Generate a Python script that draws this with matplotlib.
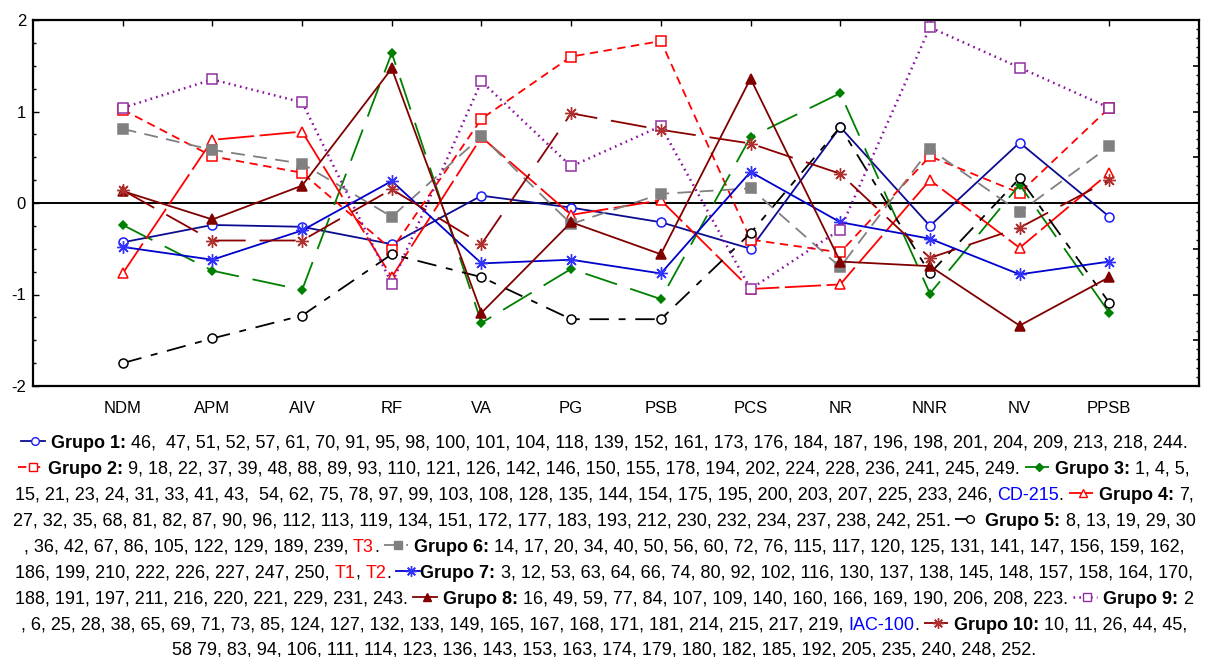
import matplotlib
matplotlib.use("Agg")
import matplotlib.pyplot as plt
from matplotlib.lines import Line2D
from matplotlib.ticker import MultipleLocator
import matplotlib.font_manager as fm

# ---------------- data ----------------
categories = ["NDM", "APM", "AIV", "RF", "VA", "PG", "PSB", "PCS", "NR", "NNR", "NV", "PPSB"]
grupo1 = [-0.43, -0.24, -0.26, -0.45, 0.08, -0.05, -0.21, -0.50, 0.83, -0.25, 0.66, -0.15]
grupo2 = [1.02, 0.51, 0.33, -0.51, 0.92, 1.60, 1.77, -0.40, -0.54, 0.51, 0.11, 1.04]
grupo3 = [-0.24, -0.74, -0.95, 1.64, -1.31, -0.72, -1.05, 0.72, 1.20, -0.99, 0.20, -1.20]
grupo4 = [-0.77, 0.69, 0.78, -0.81, 0.72, -0.13, 0.03, -0.94, -0.89, 0.25, -0.49, 0.33]
grupo5 = [-1.75, -1.48, -1.23, -0.56, -0.81, -1.27, -1.27, -0.33, 0.83, -0.77, 0.27, -1.09]
grupo6 = [0.81, 0.58, 0.43, -0.15, 0.73, -0.23, 0.10, 0.16, -0.70, 0.59, -0.10, 0.62]
grupo7 = [-0.48, -0.62, -0.30, 0.24, -0.66, -0.62, -0.77, 0.34, -0.21, -0.39, -0.78, -0.64]
grupo8 = [0.13, -0.18, 0.19, 1.47, -1.20, -0.21, -0.56, 1.36, -0.64, -0.69, -1.34, -0.81]
grupo9 = [1.04, 1.35, 1.10, -0.88, 1.33, 0.40, 0.84, -0.94, -0.29, 1.92, 1.48, 1.04]
grupo10 = [0.14, -0.41, -0.41, 0.15, -0.45, 0.98, 0.80, 0.65, 0.32, -0.60, -0.27, 0.25]
groups = [grupo1, grupo2, grupo3, grupo4, grupo5, grupo6, grupo7, grupo8, grupo9, grupo10]
y_ticks = [-2, -1, 0, 1, 2]

# legend paragraph (as laid out in the reference)
legend_lines = [
    [("sym", 0), ("b", "Grupo 1:"), ("t", "46,  47, 51, 52, 57, 61, 70, 91, 95, 98, 100, 101, 104, 118, 139, 152, 161, 173, 176, 184, 187, 196, 198, 201, 204, 209, 213, 218, 244.")],
    [("sym", 1), ("b", "Grupo 2:"), ("t", "9, 18, 22, 37, 39, 48, 88, 89, 93, 110, 121, 126, 142, 146, 150, 155, 178, 194, 202, 224, 228, 236, 241, 245, 249."), ("sym", 2), ("b", "Grupo 3:"), ("t", "1, 4, 5,")],
    [("t", "15, 21, 23, 24, 31, 33, 41, 43,  54, 62, 75, 78, 97, 99, 103, 108, 128, 135, 144, 154, 175, 195, 200, 203, 207, 225, 233, 246,"), ("blue", "CD-215"), ("t0", "."), ("sym", 3), ("b", "Grupo 4:"), ("t", "7,")],
    [("t", "27, 32, 35, 68, 81, 82, 87, 90, 96, 112, 113, 119, 134, 151, 172, 177, 183, 193, 212, 230, 232, 234, 237, 238, 242, 251."), ("sym", 4), ("b", "Grupo 5:"), ("t", "8, 13, 19, 29, 30")],
    [("t", ", 36, 42, 67, 86, 105, 122, 129, 189, 239,"), ("red", "T3"), ("t0", "."), ("sym", 5), ("b", "Grupo 6:"), ("t", "14, 17, 20, 34, 40, 50, 56, 60, 72, 76, 115, 117, 120, 125, 131, 141, 147, 156, 159, 162,")],
    [("t", "186, 199, 210, 222, 226, 227, 247, 250,"), ("red", "T1"), ("t0", ","), ("red", "T2"), ("t0", "."), ("sym", 6), ("b0", "Grupo 7:"), ("t", "3, 12, 53, 63, 64, 66, 74, 80, 92, 102, 116, 130, 137, 138, 145, 148, 157, 158, 164, 170,")],
    [("t", "188, 191, 197, 211, 216, 220, 221, 229, 231, 243."), ("sym", 7), ("b", "Grupo 8:"), ("t", "16, 49, 59, 77, 84, 107, 109, 140, 160, 166, 169, 190, 206, 208, 223."), ("sym", 8), ("b", "Grupo 9:"), ("t", "2")],
    [("t", ", 6, 25, 28, 38, 65, 69, 71, 73, 85, 124, 127, 132, 133, 149, 165, 167, 168, 171, 181, 214, 215, 217, 219,"), ("blue", "IAC-100"), ("t0", "."), ("sym", 9), ("b", "Grupo 10:"), ("t", "10, 11, 26, 44, 45,")],
    [("t", "58 79, 83, 94, 106, 111, 114, 123, 136, 143, 153, 163, 174, 179, 180, 182, 185, 192, 205, 235, 240, 248, 252.")],
]

# ---------------- styles ----------------
names = {f.name for f in fm.fontManager.ttflist}
FONT = "Liberation Sans Narrow" if "Liberation Sans Narrow" in names else "Liberation Sans"
plt.rcParams["font.family"] = [FONT, "DejaVu Sans"]
plt.rcParams["lines.scale_dashes"] = False

ast = (8, 2, 0)
styles = [
    dict(color="#0C0C90", ls="-", lw=1.3, marker="o", mfc="white", mec="#1a1aff", ms=6.5),
    dict(color="#FF0000", ls=(0, (6, 4)), lw=1.3, marker="s", mfc="white", mec="#FF0000", ms=6.5),
    dict(color="#008000", ls=(0, (24, 10)), lw=1.3, marker="D", mfc="#008000", mec="#008000", ms=4.5),
    dict(color="#FF0000", ls=(0, (26, 4)), lw=1.3, marker="^", mfc="white", mec="#FF0000", ms=6.5),
    dict(color="#000000", ls=(0, (14, 7, 5, 7)), lw=1.3, marker="o", mfc="white", mec="#000000", ms=6.5),
    dict(color="#808080", ls=(0, (10, 6)), lw=1.3, marker="s", mfc="#808080", mec="#808080", ms=6.5),
    dict(color="#0000CC", ls="-", lw=1.3, marker=ast, mfc="none", mec="#3333ff", ms=9, mew=1.0),
    dict(color="#800000", ls="-", lw=1.3, marker="^", mfc="#800000", mec="#800000", ms=6.5),
    dict(color="#8B10A0", ls=(0, (1.2, 3)), lw=1.8, marker="s", mfc="white", mec="#9030A0", ms=6.5),
    dict(color="#8B0000", ls=(0, (26, 10)), lw=1.3, marker=ast, mfc="none", mec="#B03030", ms=9, mew=1.0),
]

W, H = 1207, 657
fig = plt.figure(figsize=(W / 100, H / 100), dpi=100)
ax = fig.add_axes([33 / W, 1 - 386 / H, (1199 - 33) / W, (386 - 20) / H])

xs = list(range(len(categories)))
for g, st in zip(groups, styles):
    ax.plot(xs, g, color=st["color"], linestyle=st["ls"], linewidth=st["lw"],
            marker=st["marker"], markerfacecolor=st["mfc"], markeredgecolor=st["mec"],
            markersize=st["ms"], markeredgewidth=st.get("mew", 1.1), zorder=3)

ax.axhline(0, color="black", lw=1.4, zorder=2)
ax.set_xlim(-1, 12)
ax.set_ylim(-2, 2)
ax.set_xticks(xs)
ax.set_xticklabels(categories, fontsize=12)
ax.set_yticks(y_ticks)
ax.set_yticklabels([str(v) for v in y_ticks], fontsize=12)
ax.yaxis.set_minor_locator(MultipleLocator(0.25))
ax.tick_params(axis="x", which="major", direction="in", top=True, bottom=False,
               labelbottom=True, length=4, width=1, pad=11)
ax.tick_params(axis="y", which="major", direction="in", left=True, right=False,
               length=4, width=1, pad=5)
ax.tick_params(axis="y", which="minor", direction="in", left=True, right=False,
               length=2.5, width=1)
for s in ax.spines.values():
    s.set_linewidth(1.6)

ax2 = ax.twinx()
ax2.set_ylim(-2, 2)
ax2.yaxis.set_major_locator(MultipleLocator(0.5))
ax2.yaxis.set_minor_locator(MultipleLocator(0.1))
ax2.tick_params(axis="y", which="major", direction="in", length=4, width=1.2, labelright=False)
ax2.tick_params(axis="y", which="minor", direction="in", length=2, width=1)
for s in ax2.spines.values():
    s.set_visible(False)

# ---------------- legend paragraph ----------------
FS = 13
renderer = fig.canvas.get_renderer()


def measure(txt, weight="normal"):
    t = fig.text(0, 0, txt, fontsize=FS, fontweight=weight)
    w = t.get_window_extent(renderer).width
    t.remove()
    return w


space = measure("a a") - measure("aa")
SYM_W = 24
line_y = [441, 467, 493, 519, 545, 571, 597, 623, 648]
CX = 604

for tokens, yc in zip(legend_lines, line_y):
    items = []
    for kind, val in tokens:
        if kind == "sym":
            items.append((kind, val, SYM_W))
        else:
            weight = "bold" if kind in ("b", "b0") else "normal"
            items.append((kind, val, measure(val, weight)))
    total = 0
    layout = []
    for i, it in enumerate(items):
        if i > 0:
            prev = items[i - 1]
            if it[0] == "t0" or (prev[0] == "sym" and it[0] == "b0"):
                gap = 0
            elif prev[0] == "sym":
                gap = space * 1.2
            else:
                gap = space
            total += gap
        layout.append(total)
        total += it[2]
    x0 = CX - total / 2
    ybase = H - (yc + 6.5)
    for (kind, val, w), off in zip(items, layout):
        x = x0 + off
        if kind == "sym":
            st = styles[val]
            yy = (H - yc) / H
            fig.add_artist(Line2D([x / W, (x + w) / W], [yy, yy], transform=fig.transFigure,
                                  color=st["color"], linestyle=st["ls"], linewidth=st["lw"]))
            fig.add_artist(Line2D([(x + w * 0.6) / W], [yy], transform=fig.transFigure,
                                  marker=st["marker"], markerfacecolor=st["mfc"],
                                  markeredgecolor=st["mec"], markersize=st["ms"] * 0.85,
                                  markeredgewidth=st.get("mew", 1.0), linestyle="none"))
        else:
            color = {"blue": "#0000FF", "red": "#FF0000"}.get(kind, "black")
            weight = "bold" if kind in ("b", "b0") else "normal"
            fig.text(x / W, ybase / H, val, fontsize=FS, fontweight=weight, color=color,
                     ha="left", va="baseline")

fig.savefig("out.png", dpi=100)
